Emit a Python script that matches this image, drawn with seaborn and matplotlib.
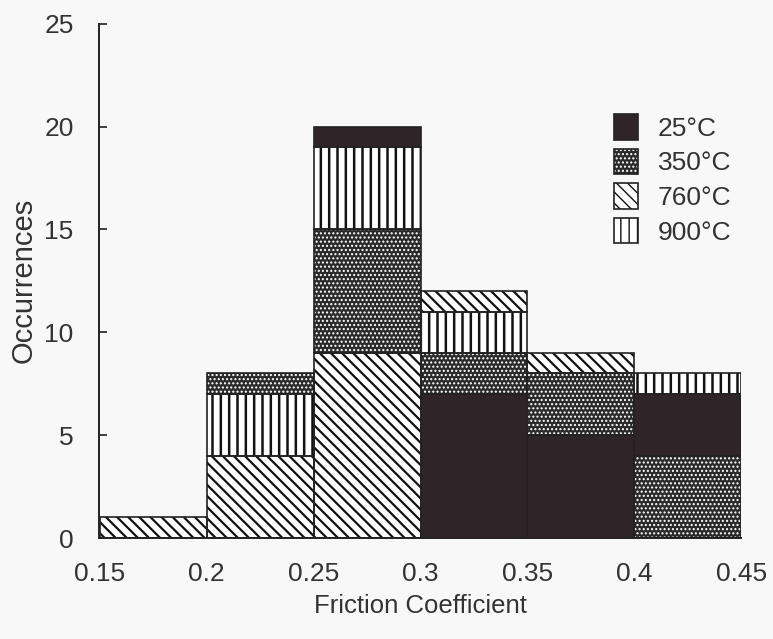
import numpy as np
import matplotlib
matplotlib.use("Agg")
import matplotlib.pyplot as plt
from matplotlib.patches import Patch
from matplotlib.legend_handler import HandlerTuple
import seaborn as sns

# bin edges of the friction coefficient histogram
bin_left = [0.15, 0.20, 0.25, 0.30, 0.35, 0.40]
bin_width = 0.05

temps = ["25°C", "350°C", "760°C", "900°C"]
# occurrences per bin, one list per test temperature
c25 = [0, 0, 1, 7, 5, 3]
c350 = [0, 1, 6, 2, 3, 4]
c760 = [1, 4, 9, 1, 1, 0]
c900 = [0, 3, 4, 2, 0, 1]

y_ticks = [0, 5, 10, 15, 20, 25]
x_ticks = [0.15, 0.2, 0.25, 0.3, 0.35, 0.4, 0.45]
x_labels = ["0.15", "0.2", "0.25", "0.3", "0.35", "0.4", "0.45"]

counts = {"25°C": c25, "350°C": c350, "760°C": c760, "900°C": c900}

# look of each temperature: face, hatch, hatch colour, hatch line width
styles = {
    "25°C": dict(face="#2f2428", hatch="", hcol="#2f2428", hlw=1.0),
    "350°C": dict(face="#2a2a2a", hatch="....", hcol="#ffffff", hlw=1.0),
    "760°C": dict(face="#ffffff", hatch="\\\\\\", hcol="#111111", hlw=1.6),
    "900°C": dict(face="#ffffff", hatch="||", hcol="#111111", hlw=1.8),
}

sns.set_theme(style="white")
plt.rcParams["font.family"] = ["Liberation Sans", "DejaVu Sans"]

fig = plt.figure(figsize=(7.73, 6.39), dpi=100, facecolor="#f8f8f8")
ax = fig.add_axes([0.129, 0.158, 0.83, 0.805])
ax.set_facecolor("#f8f8f8")

# stack each bin with the largest group at the bottom
for i, left in enumerate(bin_left):
    order = sorted(temps, key=lambda t: -counts[t][i])
    bottom = 0
    for t in order:
        v = counts[t][i]
        if v == 0:
            continue
        st = styles[t]
        with plt.rc_context({"hatch.linewidth": st["hlw"]}):
            ax.bar(left, v, width=bin_width, bottom=bottom, align="edge",
                   color=st["face"], hatch=st["hatch"], edgecolor=st["hcol"],
                   linewidth=0, zorder=2)
        ax.bar(left, v, width=bin_width, bottom=bottom, align="edge",
               fill=False, edgecolor="#222222", linewidth=1.2, zorder=3)
        bottom += v

# legend: hatched swatch with a dark outline on top
handles = []
for t in temps:
    st = styles[t]
    with plt.rc_context({"hatch.linewidth": st["hlw"]}):
        fillp = Patch(facecolor=st["face"], hatch=st["hatch"],
                      edgecolor=st["hcol"], linewidth=0)
    outline = Patch(fill=False, edgecolor="#222222", linewidth=1.2)
    handles.append((fillp, outline))
ax.legend(handles, temps, loc="upper left", bbox_to_anchor=(0.765, 0.87),
          frameon=False, fontsize=19, handlelength=0.9, handleheight=1.1,
          handletextpad=0.75, labelspacing=0.3,
          handler_map={tuple: HandlerTuple(ndivide=1)},
          labelcolor="#333333")

ax.set_xlim(0.15, 0.45)
ax.set_ylim(0, 25)
ax.set_xticks(x_ticks)
ax.set_xticklabels(x_labels)
ax.set_yticks(y_ticks)
ax.tick_params(axis="y", direction="in", length=6, width=1.2, left=True,
               labelsize=19, colors="#222222", labelcolor="#333333", pad=18)
ax.tick_params(axis="x", length=0, labelsize=19, labelcolor="#333333", pad=17)

sns.despine(ax=ax, top=True, right=True)
for side in ["left", "bottom"]:
    ax.spines[side].set_color("#222222")
    ax.spines[side].set_linewidth(1.4)
ax.spines["left"].set_position(("data", 0.1495))

ax.set_xlabel("Friction Coefficient", fontsize=18.5, color="#333333", labelpad=6)
ax.set_ylabel("Occurrences", fontsize=21, color="#333333", labelpad=5)

fig.savefig("out.png", dpi=100, facecolor=fig.get_facecolor())
